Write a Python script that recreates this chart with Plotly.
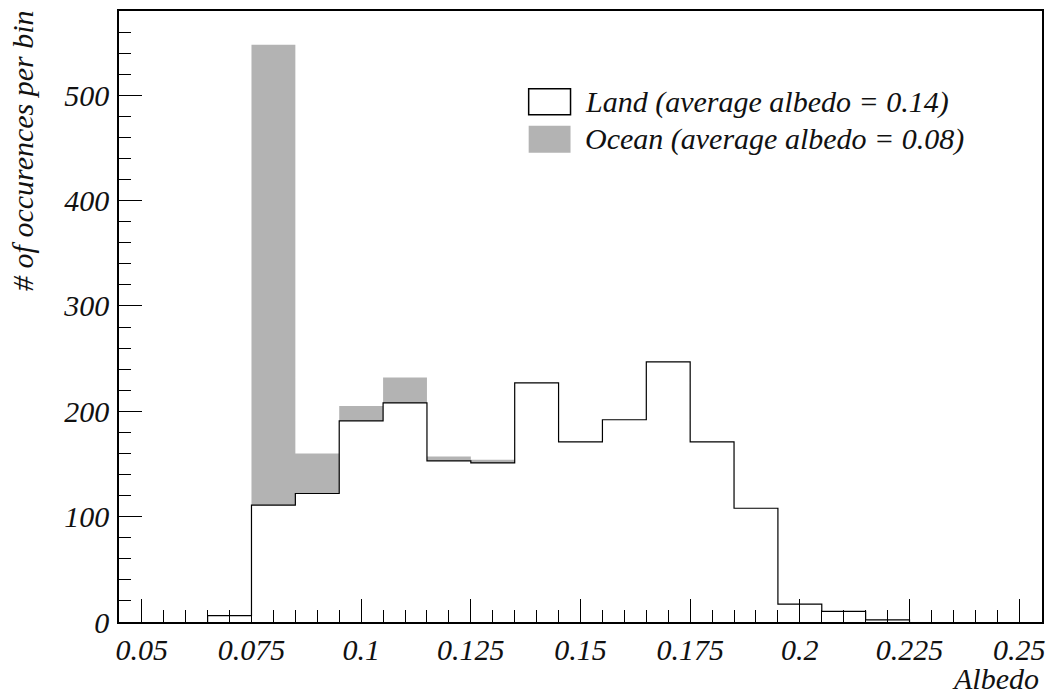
import numpy as np
import plotly.graph_objects as go

# Histogram bins (lower edges), bin width 0.01
bin_edges = [0.065, 0.075, 0.085, 0.095, 0.105, 0.115, 0.125, 0.135, 0.145,
             0.155, 0.165, 0.175, 0.185, 0.195, 0.205, 0.215, 0.225]
land = [6, 111, 122, 191, 208, 153, 151, 227, 171, 192, 247, 171, 108, 17, 10, 2]
ocean = [0, 437, 38, 14, 24, 4, 3, 0, 0, 0, 0, 0, 0, 0, 0, 0]

x_ticks = [0.05, 0.075, 0.1, 0.125, 0.15, 0.175, 0.2, 0.225, 0.25]
x_tick_labels = ["0.05", "0.075", "0.1", "0.125", "0.15", "0.175", "0.2", "0.225", "0.25"]
y_ticks = [0, 100, 200, 300, 400, 500]
y_tick_labels = ["0", "100", "200", "300", "400", "500"]

land_label = "Land (average albedo = 0.14)"
ocean_label = "Ocean (average albedo = 0.08)"
x_title = "Albedo"
y_title = "# of occurences per bin"

FONT = "Liberation Serif"
FS = 30
TXT = "#111111"
GRAY = "#b3b3b3"

edges = np.array(bin_edges)
land_a = np.array(land, dtype=float)
ocean_a = np.array(ocean, dtype=float)
total_a = land_a + ocean_a

xs = np.concatenate([[edges[0]], edges[:-1], [edges[-1]], [edges[-1]]])
ys_land = np.concatenate([[0], land_a, [land_a[-1]], [0]])
ys_total = np.concatenate([[0], total_a, [total_a[-1]], [0]])

fig = go.Figure()
fig.add_trace(go.Scatter(x=xs, y=ys_land, mode="lines", line=dict(color="black", width=1.2, shape="hv"),
                         fill="tozeroy", fillcolor="white", showlegend=False, hoverinfo="skip"))
fig.add_trace(go.Scatter(x=xs, y=ys_total, mode="lines", line=dict(color=GRAY, width=0, shape="hv"),
                         fill="tonexty", fillcolor=GRAY, showlegend=False, hoverinfo="skip"))

fig.update_layout(
    width=1054, height=698,
    margin=dict(l=119, r=9, t=10, b=76),
    paper_bgcolor="white", plot_bgcolor="white",
    showlegend=False,
)
fig.update_xaxes(
    range=[0.0448, 0.2552], tickvals=x_ticks, ticktext=x_tick_labels,
    ticks="inside", ticklen=23, tickwidth=1.2, tickcolor="black",
    minor=dict(dtick=0.005, tick0=0.05, ticks="inside", ticklen=12, tickwidth=1.2, tickcolor="black"),
    showline=True, linecolor="black", linewidth=1.6, mirror=True,
    showgrid=False, zeroline=False,
    tickfont=dict(family=FONT, size=FS, style="italic", color=TXT),
)
fig.update_yaxes(
    range=[0, 580], tickvals=y_ticks, ticktext=y_tick_labels,
    ticks="inside", ticklen=23, tickwidth=1.2, tickcolor="black",
    minor=dict(dtick=20, tick0=0, ticks="inside", ticklen=12, tickwidth=1.2, tickcolor="black"),
    showline=True, linecolor="black", linewidth=1.6, mirror=True,
    showgrid=False, zeroline=False,
    ticklabelstandoff=2,
    tickfont=dict(family=FONT, size=FS, style="italic", color=TXT),
)

def px_x(p):
    return (p - 119) / 926.0

def px_y(p):
    return (622 - p) / 612.0

fig.add_shape(type="rect", xref="paper", yref="paper",
              x0=px_x(530), x1=px_x(572), y0=px_y(114), y1=px_y(88),
              line=dict(color="black", width=1.5), fillcolor="white")
fig.add_shape(type="rect", xref="paper", yref="paper",
              x0=px_x(530), x1=px_x(572), y0=px_y(152), y1=px_y(125),
              line=dict(width=0), fillcolor=GRAY)
fig.add_annotation(xref="paper", yref="paper", x=px_x(585), y=px_y(101), text=land_label,
                   showarrow=False, xanchor="left", yanchor="middle",
                   font=dict(family=FONT, size=FS, style="italic", color=TXT))
fig.add_annotation(xref="paper", yref="paper", x=px_x(585), y=px_y(138), text=ocean_label,
                   showarrow=False, xanchor="left", yanchor="middle",
                   font=dict(family=FONT, size=FS, style="italic", color=TXT))

fig.add_annotation(xref="paper", yref="paper", x=px_x(1044), y=px_y(697), text=x_title,
                   showarrow=False, xanchor="right", yanchor="bottom",
                   font=dict(family=FONT, size=FS, style="italic", color=TXT))
fig.add_annotation(xref="paper", yref="paper", x=px_x(3), y=px_y(8), text=y_title,
                   showarrow=False, xanchor="left", yanchor="top", textangle=-90,
                   font=dict(family=FONT, size=FS, style="italic", color=TXT))

fig.write_html("out.html")
